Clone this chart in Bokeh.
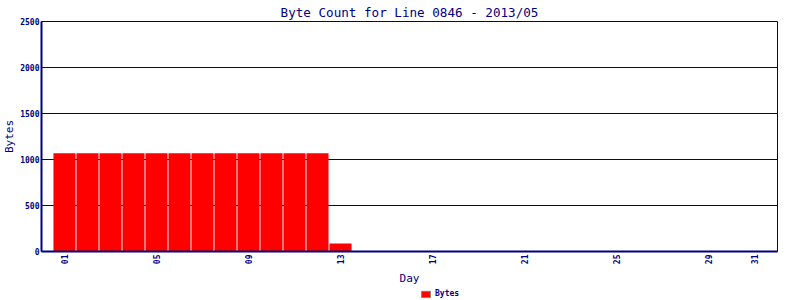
from bokeh.plotting import figure
from bokeh.models import FixedTicker, Legend, LegendItem, ColumnDataSource, Range1d
from bokeh.layouts import column
from bokeh.embed import file_html
from bokeh.resources import INLINE
import math

days = list(range(1, 14))
bytes_vals = [1067, 1067, 1067, 1067, 1067, 1067, 1067, 1067, 1067, 1067, 1067, 1067, 86]
tick_days = [1, 5, 9, 13, 17, 21, 25, 29, 31]
tick_labels = ["01", "05", "09", "13", "17", "21", "25", "29", "31"]
y_ticks = [0, 500, 1000, 1500, 2000, 2500]
series_name = "Bytes"

NAVY = "#000080"
FONT = "DejaVu Sans Mono"

p = figure(width=800, height=288, output_backend="svg", toolbar_location=None,
           x_range=Range1d(0, 32), y_range=Range1d(0, 2500),
           min_border_left=41, min_border_right=23, min_border_top=20, min_border_bottom=36)
p.title.text = "Byte Count for Line 0846 - 2013/05"
p.title.align = "center"
p.title.text_color = NAVY
p.title.text_font = FONT
p.title.text_font_size = "12.6px"
p.title.text_font_style = "normal"
p.title.offset = 0
p.title.standoff = 4

src = ColumnDataSource(dict(x=days, top=bytes_vals))
p.vbar(x="x", top="top", width=0.96, source=src, fill_color="#FF0000", line_color=None)

p.outline_line_color = NAVY
p.outline_line_width = 1

p.xgrid.grid_line_color = None
p.ygrid.grid_line_color = NAVY
p.ygrid.grid_line_width = 1
p.ygrid.ticker = FixedTicker(ticks=y_ticks)

p.xaxis.ticker = FixedTicker(ticks=tick_days)
p.xaxis.major_label_overrides = {d: l for d, l in zip(tick_days, tick_labels)}
p.xaxis.major_label_orientation = math.pi / 2
p.yaxis.ticker = FixedTicker(ticks=y_ticks)

for ax in (p.xaxis[0], p.yaxis[0]):
    ax.axis_line_color = NAVY
    ax.axis_line_width = 2
    ax.major_tick_line_color = None
    ax.minor_tick_line_color = None
    ax.major_tick_out = 0
    ax.major_tick_in = 0
    ax.minor_tick_out = 0
    ax.minor_tick_in = 0
    ax.major_label_text_color = NAVY
    ax.major_label_text_font = FONT
    ax.major_label_text_font_size = "8px"
    ax.major_label_text_font_style = "bold"
    ax.axis_label_text_color = NAVY
    ax.axis_label_text_font = FONT
    ax.axis_label_text_font_size = "11px"
    ax.axis_label_text_font_style = "normal"

p.xaxis.axis_label = "Day"
p.yaxis.axis_label = "Bytes"
p.xaxis.axis_label_standoff = 5
p.yaxis.axis_label_standoff = 1
p.yaxis.major_label_standoff = 2
p.xaxis.major_label_standoff = 3

# legend strip below the chart (no axes, so its frame spans the full width)
lg = figure(width=800, height=12, output_backend="svg", toolbar_location=None,
            x_range=Range1d(0, 1), y_range=Range1d(0, 1),
            x_axis_location=None, y_axis_location=None,
            min_border_left=0, min_border_right=0, min_border_top=0, min_border_bottom=0)
lg.grid.visible = False
lg.outline_line_color = None
# sample glyph kept outside the visible range; only its legend swatch is shown
dummy = lg.rect(x=[-5], y=[-5], width=0.1, height=0.1,
                fill_color="#FF0000", line_color="#808080", line_width=1)
legend = Legend(items=[LegendItem(label=series_name, renderers=[dummy])],
                location=(379, 2), orientation="horizontal",
                border_line_color=None, background_fill_alpha=0,
                label_text_font=FONT, label_text_font_size="8px", label_text_color=NAVY,
                label_text_font_style="bold",
                glyph_width=11, glyph_height=8, padding=0, spacing=0, margin=0,
                label_standoff=4, label_height=8)
lg.add_layout(legend, "center")

layout = column(p, lg, spacing=0)
open("out.html", "w").write(file_html(layout, INLINE))
